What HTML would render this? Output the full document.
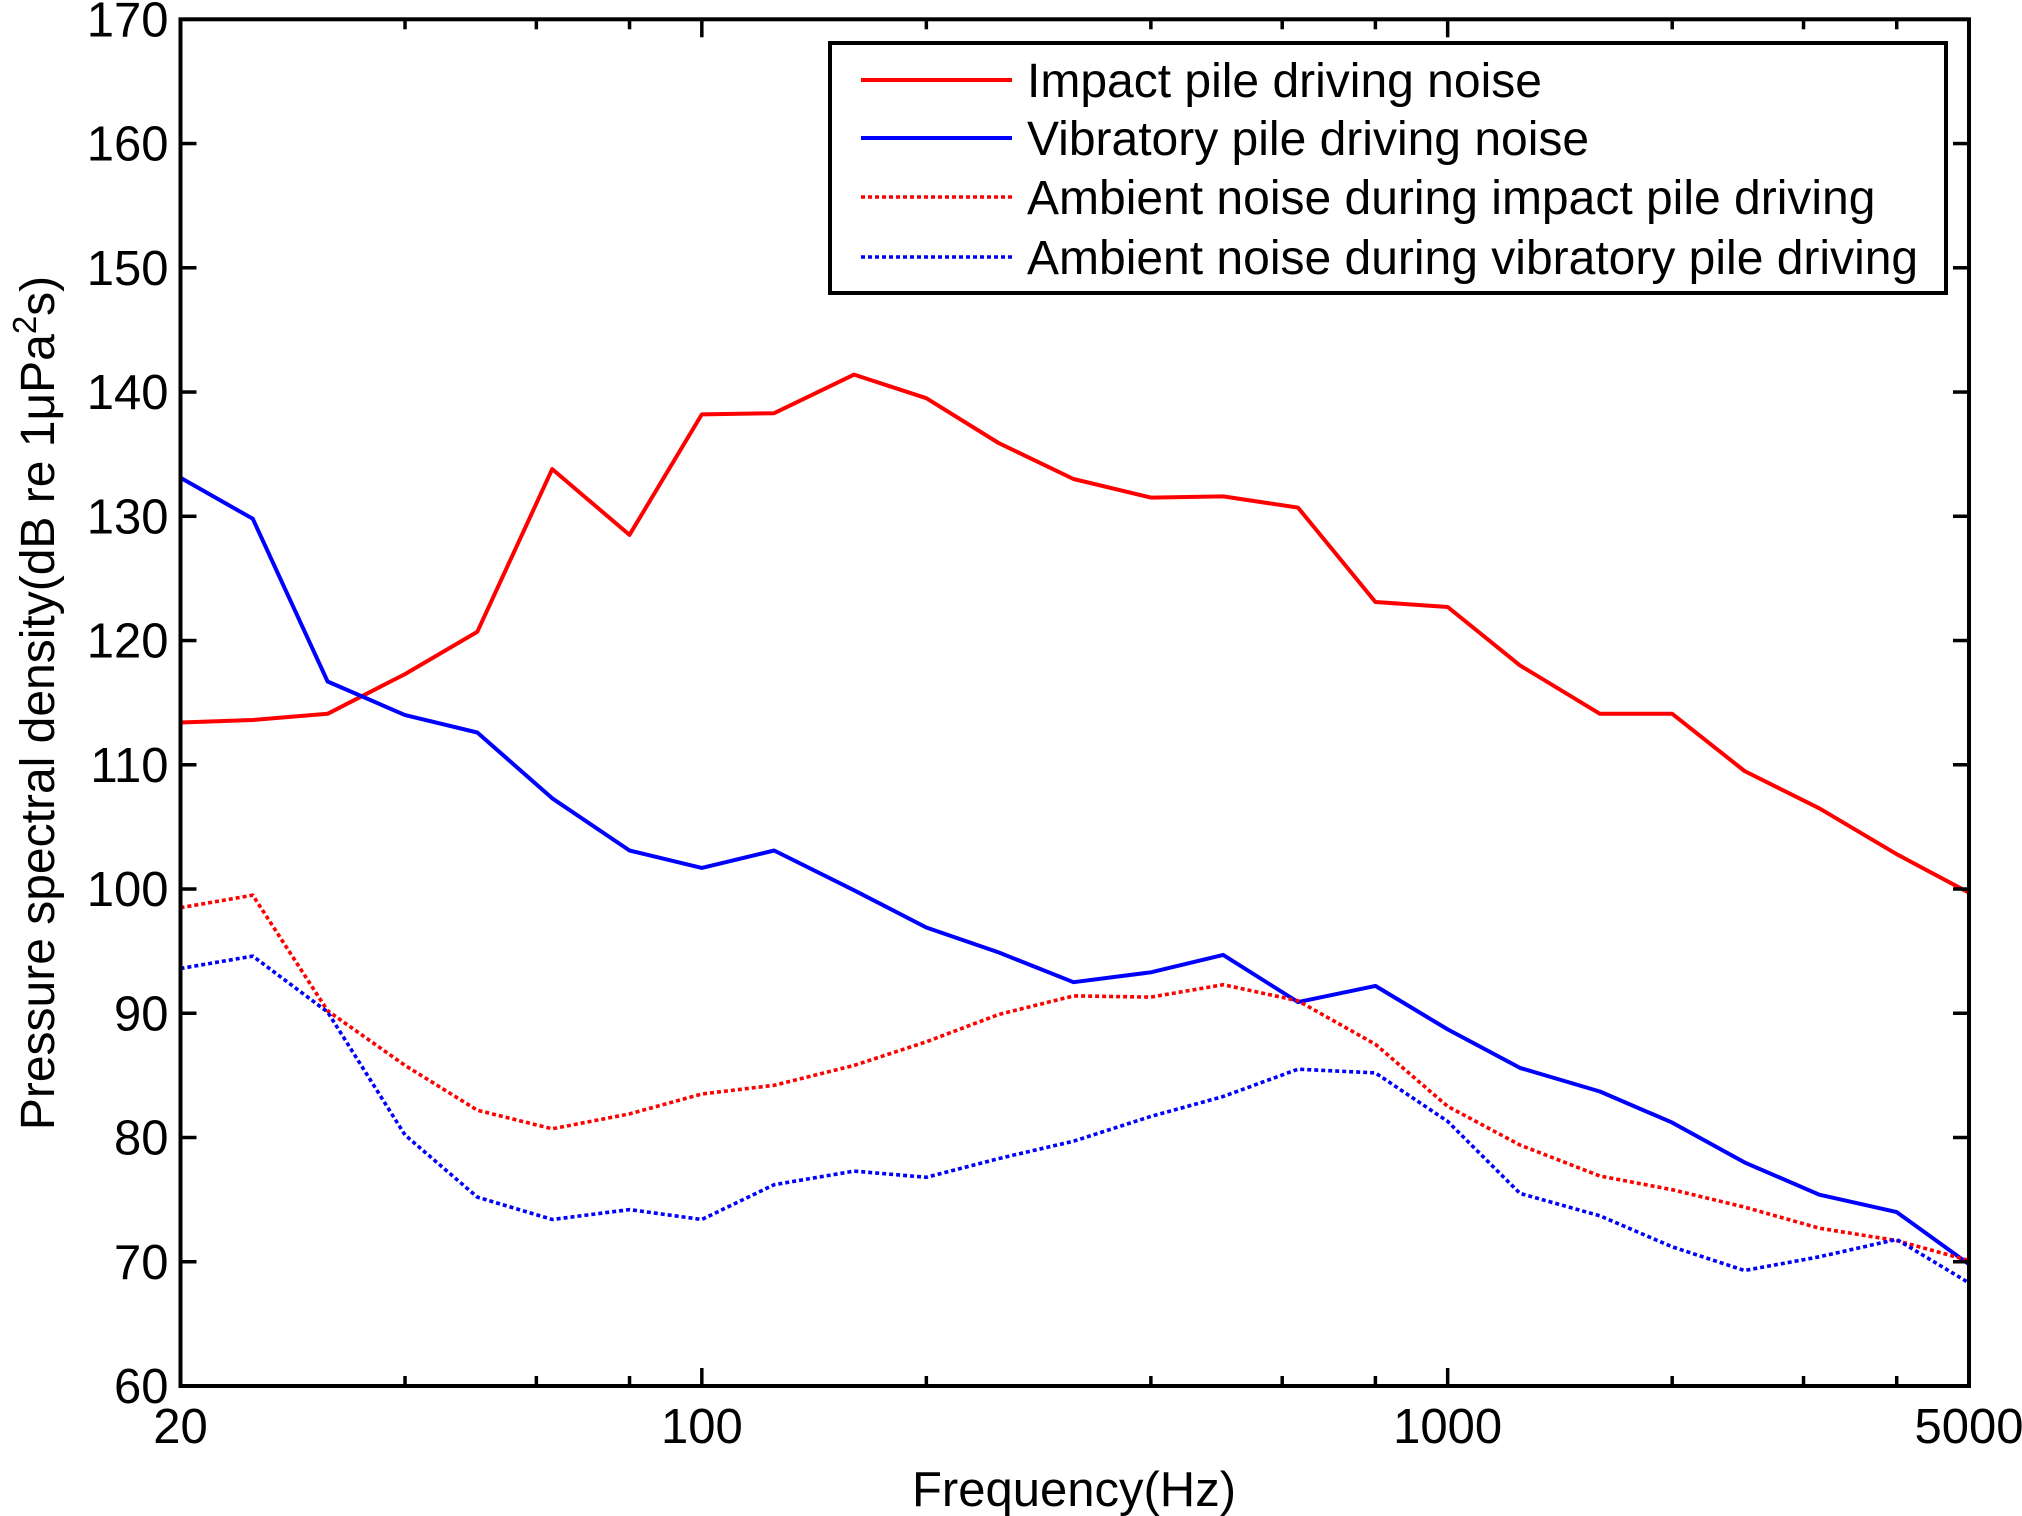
<!DOCTYPE html>
<html><head><meta charset="utf-8"><style>
html,body{margin:0;padding:0;background:#fff;}
svg{display:block;font-family:"Liberation Sans",Arial,sans-serif;}
</style></head><body>
<svg id="chart" width="2022" height="1516" viewBox="0 0 2022 1516" xmlns="http://www.w3.org/2000/svg">
<g id="grid"></g>
<g id="series"></g>
<g id="axes"></g>
<g id="legend"></g>
</svg>
<script>
const freqs = [20,25,31.5,40,50,63,80,100,125,160,200,250,315,400,500,630,800,1000,1250,1600,2000,2500,3150,4000,5000];
const impactNoise = [113.4,113.6,114.1,117.3,120.7,133.8,128.5,138.2,138.3,141.4,139.5,135.9,133.0,131.5,131.6,130.7,123.1,122.7,118.0,114.1,114.1,109.5,106.5,102.8,99.7];
const vibratoryNoise = [133.1,129.8,116.7,114.0,112.6,107.3,103.1,101.7,103.1,99.9,96.9,94.9,92.5,93.3,94.7,90.9,92.2,88.7,85.6,83.7,81.2,78.0,75.4,74.0,69.8];
const ambientImpact = [98.5,99.5,90.2,85.8,82.2,80.7,81.9,83.5,84.2,85.8,87.7,89.9,91.4,91.3,92.3,91.0,87.5,82.5,79.4,76.9,75.8,74.4,72.7,71.7,70.1];
const ambientVibratory = [93.6,94.6,90.1,80.2,75.2,73.4,74.2,73.4,76.2,77.3,76.8,78.3,79.7,81.7,83.3,85.5,85.2,81.3,75.5,73.7,71.2,69.3,70.4,71.8,68.3];
const yTicks = [60,70,80,90,100,110,120,130,140,150,160,170];
const xMajorTicks = [20,100,1000,5000];
const xMinorTicks = [40,60,80,200,400,600,800,2000,3000,4000];
const seriesNames = ["Impact pile driving noise","Vibratory pile driving noise","Ambient noise during impact pile driving","Ambient noise during vibratory pile driving"];

const L=180.5,R=1969,T=19.3,B=1386;
const xMin=20,xMax=5000,yMin=60,yMax=170;
function xs(f){return L+Math.log(f/xMin)/Math.log(xMax/xMin)*(R-L);}
function ys(v){return B-(v-yMin)/(yMax-yMin)*(B-T);}
const NS="http://www.w3.org/2000/svg";
function mk(tag,attrs,parent){const e=document.createElementNS(NS,tag);for(const k in attrs)e.setAttribute(k,attrs[k]);parent.appendChild(e);return e;}

const sg=document.getElementById('series');
const defs=[
 {d:impactNoise,c:'#ff0000',dash:null,n:'impact-noise-line'},
 {d:vibratoryNoise,c:'#0000ff',dash:null,n:'vibratory-noise-line'},
 {d:ambientImpact,c:'#ff0000',dash:'4 3',n:'ambient-impact-line'},
 {d:ambientVibratory,c:'#0000ff',dash:'4 3',n:'ambient-vibratory-line'}];
defs.forEach(s=>{
 const pts=freqs.map((f,i)=>xs(f).toFixed(1)+','+ys(s.d[i]).toFixed(1)).join(' ');
 const p=mk('polyline',{points:pts,fill:'none',stroke:s.c,'stroke-width':s.dash?3.6:4,'stroke-linejoin':'round'},sg);
 if(s.dash)p.setAttribute('stroke-dasharray',s.dash);
 
 
});

const ag=document.getElementById('axes');
const frame=mk('rect',{x:L,y:T,width:R-L,height:B-T,fill:'none',stroke:'#000','stroke-width':4},ag);


yTicks.forEach(v=>{
 const y=ys(v);
 mk('line',{x1:L,x2:L+16,y1:y,y2:y,stroke:'#000','stroke-width':3.5},ag);
 mk('line',{x1:R,x2:R-16,y1:y,y2:y,stroke:'#000','stroke-width':3.5},ag);
 const t=mk('text',{x:L-12,y:y+17,'text-anchor':'end','font-size':49},ag);
 t.textContent=v;
 
 
});
xMajorTicks.forEach(f=>{
 const x=xs(f);
 mk('line',{x1:x,x2:x,y1:B,y2:B-18,stroke:'#000','stroke-width':3.5},ag);
 mk('line',{x1:x,x2:x,y1:T,y2:T+18,stroke:'#000','stroke-width':3.5},ag);
 const t=mk('text',{x:x,y:B+57,'text-anchor':'middle','font-size':49},ag);
 t.textContent=f;
 
 
});
xMinorTicks.forEach(f=>{
 const x=xs(f);
 mk('line',{x1:x,x2:x,y1:B,y2:B-10,stroke:'#000','stroke-width':3.5},ag);
 mk('line',{x1:x,x2:x,y1:T,y2:T+10,stroke:'#000','stroke-width':3.5},ag);
});
const xt=mk('text',{x:1074,y:1506,'text-anchor':'middle','font-size':49},ag);
xt.textContent='Frequency(Hz)';


const yt=mk('text',{x:0,y:0,'text-anchor':'middle','font-size':48,transform:'translate(54,703) rotate(-90)'},ag);
yt.innerHTML='Pressure spectral density(dB re 1\u03bcPa<tspan dy="-18" font-size="33">2</tspan><tspan dy="18">s)</tspan>';



const lg=document.getElementById('legend');
const box=mk('rect',{x:830,y:43,width:1116,height:250,fill:'#fff',stroke:'#000','stroke-width':4},lg);


const rows=[80,138,197,257];
defs.forEach((s,i)=>{
 const l=mk('line',{x1:861,x2:1012,y1:rows[i],y2:rows[i],stroke:s.c,'stroke-width':s.dash?3.6:4},lg);
 if(s.dash)l.setAttribute('stroke-dasharray',s.dash);
 const t=mk('text',{x:1027,y:rows[i]+17,'font-size':48},lg);
 t.textContent=seriesNames[i];
 
 
});
</script>
</body></html>
